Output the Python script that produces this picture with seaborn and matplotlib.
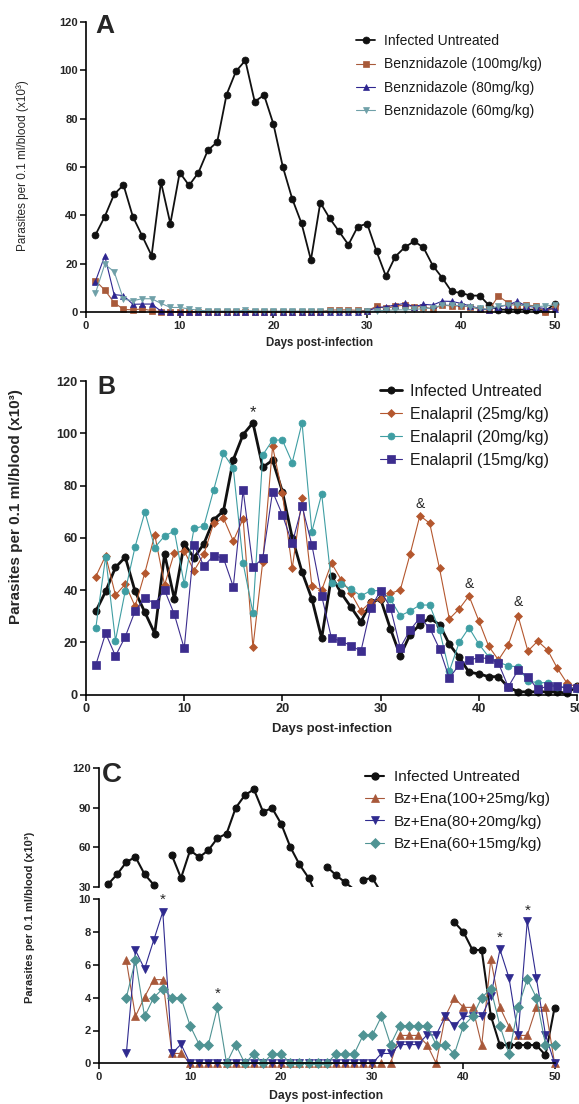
import numpy as np
import pandas as pd
import matplotlib
matplotlib.use("Agg")
import matplotlib.pyplot as plt
import seaborn as sns
from matplotlib.patches import Rectangle
from matplotlib.lines import Line2D

W, H = 579, 1104

# ---- data (parasites per 0.1 ml blood, x10^3) ----
days = list(range(1, 51))
untreated = [31.9, 39.5, 48.7, 52.6, 39.5, 31.5, 23.4, 53.8, 36.6, 57.7,
             52.4, 57.7, 66.9, 70.3, 89.9, 99.5, 104.0, 87.0, 89.7, 77.7,
             60.1, 46.9, 36.7, 21.6, 45.3, 38.8, 33.4, 27.9, 35.4, 36.6,
             25.2, 14.9, 23.0, 26.8, 29.3, 26.8, 19.3, 14.3, 8.6, 8.0,
             6.9, 6.9, 2.9, 1.1, 1.1, 1.1, 1.1, 1.1, 0.5, 3.4]

# panel A
bz100 = [13.1, 9.2, 4.0, 1.2, 1.0, 1.4, 0.7, 0.2, 0.1, 0.1,
         0.1, 0.1, 0.1, 0.1, 0.1, 0.1, 0.3, 0.1, 0.1, 0.1,
         0.1, 0.1, 0.1, 0.1, 0.2, 0.9, 1.0, 1.0, 0.8, 0.6,
         2.5, 1.6, 2.5, 3.0, 2.3, 2.3, 1.3, 3.0, 2.6, 2.6,
         2.3, 1.2, 1.0, 6.7, 4.0, 3.0, 3.0, 2.6, 0.3, 2.0]
bz80 = [12.7, 23.3, 7.3, 6.9, 3.3, 3.4, 3.4, 0.5, 0.3, 0.2,
        0.2, 0.2, 0.2, 0.2, 0.2, 0.2, 0.2, 0.2, 0.2, 0.2,
        0.2, 0.2, 0.2, 0.2, 0.2, 0.2, 0.2, 0.2, 0.2, 0.5,
        1.9, 2.3, 3.0, 3.7, 2.3, 3.3, 3.0, 4.6, 4.5, 3.7,
        2.6, 1.6, 1.0, 2.3, 3.0, 4.5, 2.6, 2.0, 1.6, 1.3]
bz60 = [7.8, 19.8, 16.8, 5.4, 4.8, 5.6, 5.6, 3.7, 2.0, 2.0,
        1.4, 0.8, 0.6, 0.5, 0.5, 0.5, 0.8, 0.6, 0.5, 0.5,
        0.5, 0.5, 0.5, 0.5, 0.5, 0.5, 0.5, 0.5, 0.5, 0.4,
        0.6, 0.8, 1.0, 1.0, 1.2, 1.5, 1.8, 3.0, 2.9, 2.8,
        2.3, 1.6, 1.2, 2.6, 3.0, 3.0, 2.8, 2.3, 2.6, 3.0]

# panel B
ena25 = [45.2, 53.2, 38.1, 42.3, 33.8, 46.7, 61.2, 42.0, 54.3, 55.0,
         47.4, 53.7, 65.6, 67.5, 58.8, 67.3, 18.1, 50.9, 95.0, 77.0,
         48.3, 75.1, 41.7, 40.0, 50.3, 43.9, 38.8, 32.0, 35.5, 36.5,
         38.8, 40.0, 53.7, 68.5, 65.6, 48.3, 29.0, 32.8, 37.8, 28.3,
         18.6, 13.3, 19.0, 30.1, 16.7, 20.5, 17.1, 10.1, 4.3, 3.0]
ena20 = [25.6, 52.8, 20.7, 39.7, 56.6, 69.9, 56.3, 60.7, 62.6, 42.3,
         63.6, 64.5, 78.3, 92.3, 86.6, 50.3, 31.4, 91.7, 97.4, 97.4,
         88.8, 104.0, 62.4, 76.8, 42.6, 42.3, 40.4, 37.8, 39.8, 39.8,
         36.5, 30.2, 32.0, 34.3, 34.3, 24.6, 9.0, 20.0, 25.6, 19.4,
         14.5, 12.5, 11.0, 10.7, 5.2, 4.6, 4.6, 3.0, 3.0, 2.0]
ena15 = [11.4, 23.5, 14.8, 22.2, 32.0, 37.1, 34.8, 40.0, 30.7, 17.7,
         57.3, 49.2, 53.2, 52.2, 41.3, 78.3, 48.7, 52.2, 77.7, 68.8,
         57.9, 72.2, 57.3, 37.8, 21.6, 20.5, 18.7, 16.7, 33.3, 39.8,
         33.3, 18.0, 24.7, 29.4, 25.5, 17.5, 6.3, 11.5, 13.2, 14.2,
         13.8, 12.1, 3.0, 9.4, 6.9, 2.0, 3.3, 3.3, 2.4, 2.4]

# panel C (treatment from day 3)
days_c = list(range(3, 51))
combo100 = [6.27, 2.86, 4.04, 5.1, 5.1, 0.6, 0.6,
            0, 0, 0, 0, 0, 0, 0, 0, 0, 0, 0, 0, 0, 0, 0, 0, 0, 0, 0, 0, 0, 0, 0,
            1.7, 1.7, 1.7, 1.14, 0, 2.86, 3.98, 3.41, 3.41, 1.12, 6.33, 3.41,
            2.24, 1.7, 1.7, 3.41, 3.41, 0]
combo80 = [0.6, 6.9, 5.75, 7.5, 9.24, 0.6, 1.16,
           0, 0, 0, 0, 0, 0, 0, 0, 0, 0, 0, 0, 0, 0, 0, 0, 0, 0, 0, 0, 0,
           0.6, 0.6, 1.14, 1.14, 1.14, 1.73, 1.73, 2.86, 2.29, 2.86, 2.86, 2.86,
           4.08, 6.94, 5.2, 1.73, 8.67, 5.2, 1.73, 0]
combo60 = [4.0, 6.3, 2.86, 4.0, 4.55, 4.0, 4.0, 2.29, 1.14, 1.14,
           3.41, 0, 1.14, 0, 0.57, 0, 0.57, 0.57, 0, 0,
           0, 0, 0, 0.57, 0.57, 0.57, 1.73, 1.73, 2.86, 1.14,
           2.29, 2.29, 2.29, 2.29, 1.14, 1.14, 0.57, 2.29, 2.86, 4.0,
           4.55, 2.29, 0.57, 3.41, 5.14, 4.0, 1.14, 1.14]

# significance marks
b_star = [(17, 108.0, "*")]
b_amp = [(34, 73.0, "&"), (39, 42.3, "&"), (44, 35.3, "&")]
c_star = [(7, 9.95), (13, 4.25), (44, 7.65), (47, 9.3)]

LBL_A = ["Infected Untreated", "Benznidazole (100mg/kg)",
         "Benznidazole (80mg/kg)", "Benznidazole (60mg/kg)"]
LBL_B = ["Infected Untreated", "Enalapril (25mg/kg)",
         "Enalapril (20mg/kg)", "Enalapril (15mg/kg)"]
LBL_C = ["Infected Untreated", "Bz+Ena(100+25mg/kg)",
         "Bz+Ena(80+20mg/kg)", "Bz+Ena(60+15mg/kg)"]
YLAB = "Parasites per 0.1 ml/blood (x10\u00b3)"
XLAB = "Days post-infection"

sns.set_style("ticks")
plt.rcParams["font.family"] = ["Liberation Sans", "DejaVu Sans"]
plt.rcParams["axes.linewidth"] = 1.2
plt.rcParams["axes.edgecolor"] = "black"

fig = plt.figure(figsize=(W / 100, H / 100), dpi=100)


def box(l, t, r, b):
    return [l / W, 1 - b / H, (r - l) / W, (b - t) / H]


def fx(px):
    return px / W


def fy(py):
    return 1 - py / H


def series(ax, x, y, color, marker, ms, lw, label=None, clip=False):
    sns.lineplot(x=x, y=y, ax=ax, color=color, marker=marker, markersize=ms,
                 linewidth=lw, markeredgecolor=color, markeredgewidth=0.5,
                 label=label, errorbar=None, clip_on=clip)
    return ax.lines[-1]


def style_ticks(ax, size):
    ax.tick_params(labelsize=size, width=1.1, length=4, color="black", pad=2)
    for t in ax.get_xticklabels() + ax.get_yticklabels():
        t.set_fontweight("bold")


def legend(ax, handles, labels, x, y, size, hl, pad, sp):
    leg = ax.legend(handles, labels, loc="upper left", bbox_to_anchor=(fx(x), fy(y)),
                    bbox_transform=fig.transFigure, frameon=False, fontsize=size,
                    handlelength=hl, handletextpad=pad, labelspacing=sp,
                    borderpad=0, borderaxespad=0)
    for t in leg.get_texts():
        t.set_color("#1a1a1a")


# ---- panel A ----
axA = fig.add_axes(box(86, 21.7, 554.6, 312.3))
hA = [series(axA, days, untreated, "#111111", "o", 5, 1.3, LBL_A[0]),
      series(axA, days, bz100, "#a85a3a", "s", 4.3, 0.8, LBL_A[1]),
      series(axA, days, bz80, "#2e2690", "^", 4.8, 0.8, LBL_A[2]),
      series(axA, days, bz60, "#6fa0a8", "v", 4.8, 0.8, LBL_A[3])]
axA.set_xlim(0, 50)
axA.set_ylim(0, 120)
axA.set_xticks(range(0, 51, 10))
axA.set_yticks(range(0, 121, 20))
axA.set_xlabel("")
axA.set_ylabel("")
sns.despine(ax=axA)
style_ticks(axA, 8)
legend(axA, hA, LBL_A, 356, 34, 10, 1.4, 0.65, 0.68)
fig.text(fx(95), fy(33), "A", fontsize=19, fontweight="bold", va="baseline")
fig.text(fx(320), fy(343), XLAB, fontsize=8.3, fontweight="bold", ha="center", va="center")
fig.text(fx(23), fy(166), YLAB, fontsize=8.5, rotation=90, ha="center", va="center")

# ---- panel B ----
axB = fig.add_axes(box(86, 381, 577, 694.7))
hB = [series(axB, days, untreated, "#111111", "o", 5.2, 2.0, LBL_B[0]),
      series(axB, days, ena25, "#b4572e", "D", 4.3, 0.8, LBL_B[1]),
      series(axB, days, ena20, "#3f9ea3", "o", 5.0, 0.8, LBL_B[2]),
      series(axB, days, ena15, "#3c2d8e", "s", 5.6, 0.8, LBL_B[3])]
axB.set_xlim(0, 50)
axB.set_ylim(0, 120)
axB.set_xticks(range(0, 51, 10))
axB.set_yticks(range(0, 121, 20))
axB.set_xlabel("")
axB.set_ylabel("")
sns.despine(ax=axB)
style_ticks(axB, 9.2)
for x, y, s in b_star:
    axB.text(x, y, s, fontsize=12, ha="center", va="center")
for x, y, s in b_amp:
    axB.text(x, y, s, fontsize=10, ha="center", va="center")
legend(axB, hB, LBL_B, 380, 384, 11.5, 1.4, 0.5, 0.5)
fig.text(fx(97), fy(394), "B", fontsize=18, fontweight="bold", va="baseline")
fig.text(fx(332), fy(729), XLAB, fontsize=9.4, fontweight="bold", ha="center", va="center")
fig.text(fx(16), fy(507), YLAB, fontsize=11, fontweight="bold", rotation=90,
         ha="center", va="center")

# ---- panel C (broken y axis) ----
axCt = fig.add_axes(box(99, 768.3, 554.6, 886.7))
axCb = fig.add_axes(box(99, 899.3, 554.6, 1063.3))
unt = np.array(untreated)
dd = np.array(days)

for ax, lo, hi in [(axCt, 30, 120), (axCb, 0, 10)]:
    # a segment is drawn when the point it starts from lies inside this section
    inside = (unt >= lo) & (unt <= hi)
    sx, sy, su = [], [], []
    for i in range(len(dd) - 1):
        if inside[i]:
            sx += [dd[i], dd[i + 1]]
            sy += [unt[i], unt[i + 1]]
            su += [i, i]
    n0 = len(ax.lines)
    sns.lineplot(x=sx, y=sy, units=su, estimator=None, ax=ax, color="#111111",
                 linewidth=1.5, errorbar=None, legend=False)
    clip = Rectangle((-0.05, 0), 1.1, 1, transform=ax.transAxes)
    for ln in ax.lines[n0:]:
        ln.set_clip_path(clip)
    sns.lineplot(x=dd[inside], y=unt[inside], ax=ax, color="#111111", marker="o",
                 markersize=5, linestyle="", markeredgecolor="#111111",
                 errorbar=None, clip_on=False)

hC = [Line2D([], [], color="#111111", marker="o", markersize=5, linewidth=1.5)]
hC.append(series(axCb, days_c, combo100, "#a8583a", "^", 5.2, 0.8))
hC.append(series(axCb, days_c, combo80, "#2f2a8f", "v", 5.2, 0.8))
hC.append(series(axCb, days_c, combo60, "#4f9393", "D", 4.6, 0.8))

for ax in (axCt, axCb):
    ax.set_xlim(0, 50)
    ax.set_xlabel("")
    ax.set_ylabel("")
axCt.set_ylim(30, 120)
axCt.set_yticks([30, 60, 90, 120])
axCt.set_xticks([])
sns.despine(ax=axCt, bottom=True)
style_ticks(axCt, 8)
axCb.set_ylim(0, 10)
axCb.set_yticks(range(0, 11, 2))
axCb.set_xticks(range(0, 51, 10))
sns.despine(ax=axCb)
style_ticks(axCb, 8)
if axCb.get_legend():
    axCb.get_legend().remove()
for x, y in c_star:
    axCb.text(x, y, "*", fontsize=11, ha="center", va="center", clip_on=False)
legend(axCt, hC, LBL_C, 365, 770, 11, 1.25, 0.65, 0.55)
fig.text(fx(102), fy(782), "C", fontsize=20, fontweight="bold", va="baseline")
fig.text(fx(326), fy(1096), XLAB, fontsize=8.8, fontweight="bold", ha="center", va="center")
fig.text(fx(30), fy(917), YLAB, fontsize=8, fontweight="bold", rotation=90,
         ha="center", va="center")

fig.savefig("out.png", dpi=100)
